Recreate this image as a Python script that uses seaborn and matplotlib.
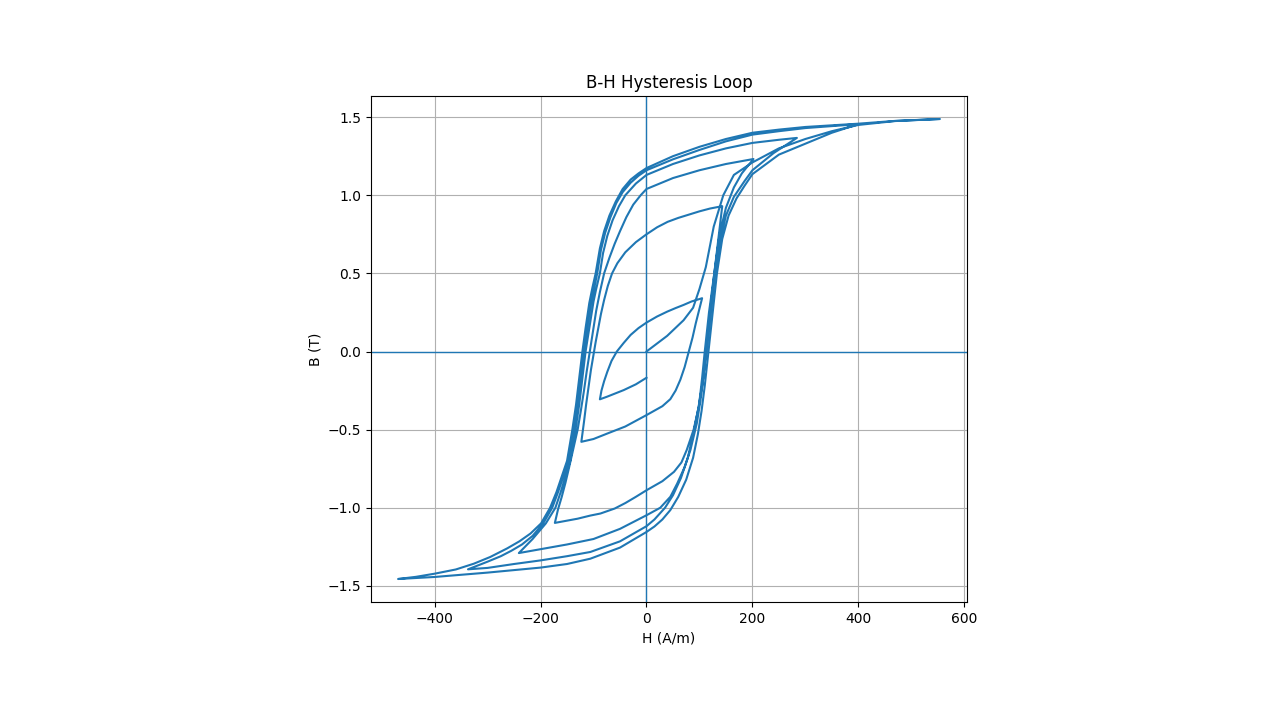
import numpy as np
import pandas as pd
import matplotlib
matplotlib.use("Agg")
import matplotlib.pyplot as plt
import seaborn as sns

# branches of the loop, in the order they are traced (H in A/m, B in T)
virgin_h = [0, 39, 70, 88, 100, 112, 127, 145, 165, 200, 250, 300, 350, 400, 470, 554]
virgin_b = [0, 0.10, 0.20, 0.28, 0.40, 0.54, 0.80, 1.00, 1.13, 1.21, 1.30, 1.36, 1.41, 1.45, 1.475, 1.488]

d1_h = [554, 470, 400, 300, 250, 200, 150, 100, 50, 0, -15, -30, -45, -58, -70, -80, -88, -96, -102,
        -108, -115, -121, -127, -133, -140, -145, -150, -160, -170, -182, -199, -219, -240, -263,
        -295, -326, -360, -400, -435, -469]
d1_b = [1.488, 1.476, 1.458, 1.437, 1.42, 1.40, 1.36, 1.31, 1.25, 1.174, 1.14, 1.10, 1.04, 0.96, 0.87,
        0.77, 0.66, 0.5, 0.41, 0.31, 0.15, 0.0, -0.17, -0.34, -0.5, -0.6, -0.7, -0.8, -0.9, -1.0, -1.10,
        -1.165, -1.215, -1.26, -1.315, -1.358, -1.395, -1.422, -1.442, -1.456]

a1_h = [-469, -400, -300, -200, -150, -106, -50, 0, 15, 30, 45, 60, 75, 88, 97, 104, 110, 117,
        125, 133, 143, 155, 170, 185, 200, 250, 300, 350, 400]
a1_b = [-1.456, -1.443, -1.415, -1.383, -1.36, -1.326, -1.255, -1.155, -1.12, -1.075, -1.015, -0.93,
        -0.82, -0.68, -0.53, -0.38, -0.22, 0.0, 0.25, 0.5, 0.72, 0.87, 0.98, 1.06, 1.135, 1.26, 1.33,
        1.40, 1.455]

d2_h = [400, 300, 250, 200, 150, 100, 50, 0, -15, -30, -45, -57, -68, -78, -86, -93, -99, -105,
        -112, -118, -124, -130, -137, -142, -147, -157, -167, -178, -195, -215, -235, -255, -275,
        -300, -337]
d2_b = [1.455, 1.43, 1.41, 1.388, 1.345, 1.29, 1.23, 1.16, 1.125, 1.08, 1.02, 0.95, 0.86, 0.76, 0.65,
        0.5, 0.4, 0.3, 0.15, 0.0, -0.17, -0.34, -0.5, -0.6, -0.7, -0.8, -0.9, -1.0, -1.10, -1.18,
        -1.235, -1.275, -1.31, -1.345, -1.394]

a2_h = [-337, -300, -250, -200, -150, -106, -50, 0, 15, 35, 50, 65, 78, 90, 98, 106, 113, 121,
        129, 140, 150, 165, 185, 200, 240, 284]
a2_b = [-1.394, -1.385, -1.36, -1.337, -1.31, -1.283, -1.215, -1.118, -1.075, -1.0, -0.92, -0.81,
        -0.68, -0.5, -0.36, -0.2, 0.0, 0.25, 0.5, 0.72, 0.87, 0.99, 1.09, 1.16, 1.27, 1.367]

d3_h = [284, 250, 200, 150, 100, 50, 0, -20, -40, -52, -64, -74, -82, -88, -95, -100, -108, -115,
        -121, -127, -134, -139, -144, -153, -162, -172, -190, -215, -241]
d3_b = [1.367, 1.355, 1.335, 1.30, 1.255, 1.2, 1.13, 1.075, 1.0, 0.93, 0.84, 0.74, 0.63, 0.5, 0.4,
        0.32, 0.15, 0.0, -0.17, -0.34, -0.5, -0.6, -0.7, -0.8, -0.9, -1.0, -1.1, -1.2, -1.29]

a3_h = [-241, -200, -150, -100, -50, 0, 26, 45, 58, 72, 83, 95, 102, 108, 112, 120, 128, 138,
        150, 165, 180, 202]
a3_b = [-1.29, -1.265, -1.235, -1.20, -1.135, -1.048, -1.0, -0.93, -0.845, -0.74, -0.63, -0.46, -0.31,
        -0.15, 0.0, 0.25, 0.5, 0.75, 0.92, 1.05, 1.14, 1.232]

d4_h = [202, 150, 100, 50, 0, -11, -25, -38, -50, -60, -70, -80, -88, -95, -101, -107, -113, -118,
        -124, -130, -138, -146, -153, -160, -167, -173]
d4_b = [1.232, 1.2, 1.16, 1.11, 1.04, 1.0, 0.94, 0.86, 0.77, 0.69, 0.6, 0.5, 0.38, 0.26, 0.13, 0.0,
        -0.13, -0.25, -0.38, -0.5, -0.62, -0.74, -0.84, -0.93, -1.01, -1.097]

a4_h = [-173, -130, -106, -87, -60, -40, -20, 0, 30, 52, 66, 76, 89, 99, 105, 110, 118, 128, 135, 143]
a4_b = [-1.097, -1.07, -1.05, -1.037, -1.005, -0.97, -0.93, -0.888, -0.83, -0.77, -0.71, -0.63, -0.5,
        -0.35, -0.17, 0.0, 0.25, 0.5, 0.7, 0.93]

d5_h = [143, 120, 100, 80, 60, 40, 20, 0, -20, -40, -55, -65, -73, -80, -86, -91, -96, -100,
        -105, -110, -114, -118, -123]
d5_b = [0.93, 0.915, 0.897, 0.876, 0.855, 0.83, 0.795, 0.75, 0.70, 0.635, 0.565, 0.5, 0.42, 0.33,
        0.24, 0.15, 0.06, -0.02, -0.12, -0.24, -0.34, -0.45, -0.578]

a5_h = [-123, -100, -74, -40, 0, 30, 45, 55, 64, 72, 80, 87, 93, 99, 105]
a5_b = [-0.578, -0.56, -0.525, -0.48, -0.407, -0.35, -0.305, -0.25, -0.18, -0.10, 0.0, 0.09, 0.18,
        0.26, 0.341]

d6_h = [105, 85, 70, 55, 39, 20, 0, -15, -30, -43, -56, -66, -74, -80, -85, -88]
d6_b = [0.341, 0.32, 0.298, 0.278, 0.255, 0.224, 0.185, 0.15, 0.106, 0.055, 0.0, -0.06, -0.13,
        -0.19, -0.25, -0.306]

a6_h = [-88, -75, -60, -43, -20, 0]
a6_b = [-0.306, -0.29, -0.27, -0.247, -0.21, -0.168]

branches = [(virgin_h, virgin_b), (d1_h, d1_b), (a1_h, a1_b), (d2_h, d2_b), (a2_h, a2_b),
            (d3_h, d3_b), (a3_h, a3_b), (d4_h, d4_b), (a4_h, a4_b), (d5_h, d5_b),
            (a5_h, a5_b), (d6_h, d6_b), (a6_h, a6_b)]

H = np.concatenate([np.array(h, dtype=float) for h, b in branches])
B = np.concatenate([np.array(b, dtype=float) for h, b in branches])
df = pd.DataFrame({'H': H, 'B': B})

fig = plt.figure(figsize=(12.8, 7.2), dpi=100)
ax = fig.add_axes([371 / 1280, 118 / 720, 596 / 1280, 506 / 720])

sns.lineplot(data=df, x='H', y='B', sort=False, estimator=None, color='#1f77b4', linewidth=1.5, ax=ax)
ax.axhline(0, color='#1f77b4', linewidth=1)
ax.axvline(0, color='#1f77b4', linewidth=1)

ax.set_title('B-H Hysteresis Loop')
ax.set_xlabel('H (A/m)')
ax.set_ylabel('B (T)')
ax.grid(True)

plt.savefig('out.png', dpi=100)
plt.close()
